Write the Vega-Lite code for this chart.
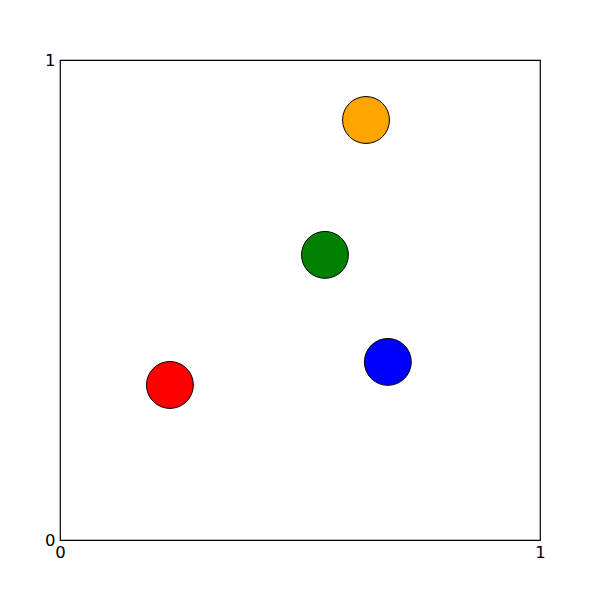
{
  "$schema": "https://vega.github.io/schema/vega-lite/v6.json",
  "autosize": "none",
  "width": 480,
  "height": 480,
  "padding": 60,
  "background": "white",
  "config": {
    "view": {"stroke": "black", "strokeWidth": 1.2},
    "axis": {"grid": false, "ticks": false, "domain": false, "labelFont": "DejaVu Sans", "labelFontSize": 16.5, "labelColor": "black", "title": null}
  },
  "data": {
    "values": [
      {"x": 0.229, "y": 0.323, "c": "red"},
      {"x": 0.552, "y": 0.594, "c": "green"},
      {"x": 0.6375, "y": 0.875, "c": "orange"},
      {"x": 0.683, "y": 0.371, "c": "blue"}
    ]
  },
  "mark": {"type": "point", "shape": "circle", "filled": true, "size": 2200, "stroke": "black", "strokeWidth": 1, "opacity": 1},
  "encoding": {
    "x": {"field": "x", "type": "quantitative", "scale": {"domain": [0, 1], "nice": false}, "axis": {"values": [0, 1], "labelPadding": 4, "format": "d", "labelFlush": false}},
    "y": {"field": "y", "type": "quantitative", "scale": {"domain": [0, 1], "nice": false}, "axis": {"values": [0, 1], "labelPadding": 5, "format": "d", "labelFlush": false}},
    "fill": {"field": "c", "type": "nominal", "scale": null}
  }
}
